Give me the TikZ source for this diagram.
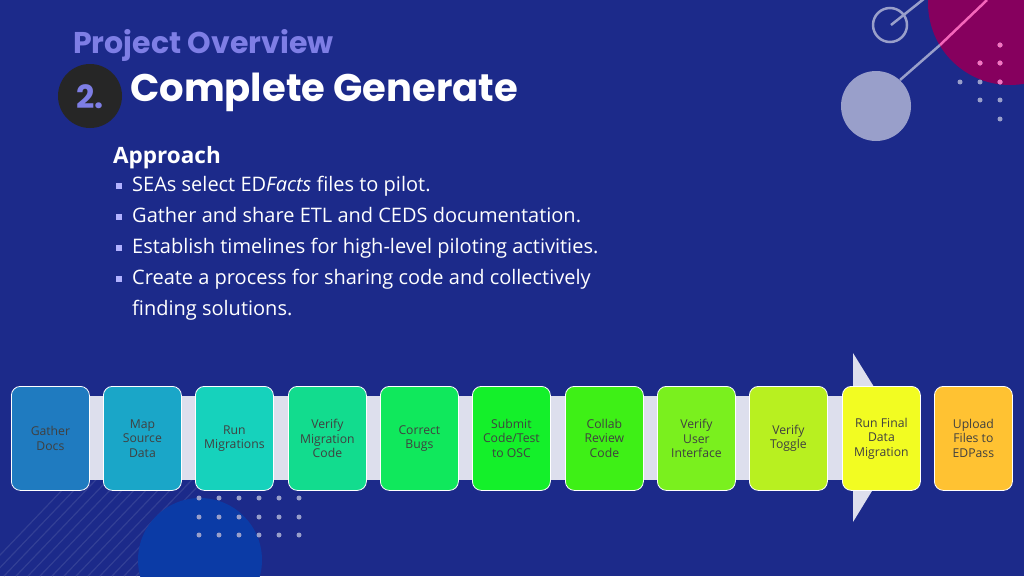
\documentclass[tikz,border=0pt]{standalone}
\usepackage{fontspec}
\setmainfont{Open Sans}
\newfontfamily\titlefont{Poppins}
\newcommand{\sqb}{\textcolor{blue!30!white}{\rule[3pt]{6pt}{6pt}}\hspace{10pt}}
\begin{document}
\begin{tikzpicture}[x=1pt,y=-1pt,
  stepbox/.style={draw=white,line width=0.8pt,rounded corners=9pt,minimum width=78pt,minimum height=104pt,anchor=north west,align=center,font=\fontsize{12.2}{14.5}\selectfont,text=black!75,inner sep=1pt}]
\definecolor{bg}{HTML}{1C2A8A}
\definecolor{mag}{HTML}{86005E}
\definecolor{bcirc}{HTML}{0B3BA6}
\fill[bg] (0,0) rectangle (1024,576);
\useasboundingbox (0,0) rectangle (1024,576);
% decorations top right
\fill[mag] (1010,3) circle (82);
\draw[white!55!bg,line width=2.5pt] (890,25) circle (17);
\draw[white!55!bg,line width=2.5pt] (891,25) -- (925,-2);
\draw[white!55!bg,line width=2.5pt] (900,80) -- (940,45);
\draw[magenta!60!white,line width=2.5pt] (940,45) -- (987,0);
\fill[white!55!bg] (876,106) circle (35);
\foreach \p in {(1000,45),(980,63),(1000,63),(960,82),(980,82),(1000,82),(980,100),(1000,100),(1000,119)} \fill[white!55!bg] \p circle (2.5);
\foreach \p in {(1000,45),(980,63),(1000,63),(1000,82)} \fill[magenta!55!white] \p circle (2.5);
% bottom left decorations
\begin{scope}
\clip (0,420) rectangle (200,576);
\foreach \i in {0,...,16} \draw[bg!80!white,line width=1.2pt,opacity=0.5] (\i*12-20,576) -- (\i*12+110,440);
\end{scope}
\fill[bcirc] (200,560) circle (62);
\foreach \xx in {199,219,239,259,279,299} \foreach \yy in {498,517,535} \fill[white!55!bg] (\xx,\yy) circle (2.5);
% title
\node[anchor=west,text=blue!45!white!90!black,font=\titlefont\bfseries\fontsize{30}{32}\selectfont,inner sep=0pt] (po) at (73,45) {Project Overview};
\fill[black!85] (90,96) circle (32);
\node[text=blue!45!white!90!black,font=\titlefont\bfseries\fontsize{32}{34}\selectfont] (num) at (90,97) {2.};
\node[anchor=west,text=white,font=\titlefont\bfseries\fontsize{38.5}{40}\selectfont,inner sep=0pt] (ttl) at (130,92) {Complete Generate};
% approach
\node[anchor=west,text=white,font=\bfseries\fontsize{22.5}{24}\selectfont,inner sep=0pt] (ap) at (113,158) {Approach};
\node[anchor=north west,text=white,align=left,font=\fontsize{20}{31}\selectfont,inner sep=0pt] (bl) at (116,176) {%
\sqb SEAs select ED\textit{Facts} files to pilot.\\
\sqb Gather and share ETL and CEDS documentation.\\
\sqb Establish timelines for high-level piloting activities.\\
\sqb Create a process for sharing code and collectively\\
\hspace{16pt}finding solutions.};
% band and arrow
\fill[white!85!bg] (30,396) rectangle (870,480);
\fill[white!85!bg] (853,353) -- (905,437) -- (853,522) -- cycle;
% boxes
\foreach \xx/\c/\t [count=\i] in {11/1F7BC0/{Gather\\Docs},103/1AA6C8/{Map\\Source\\Data},195/16D2BC/{Run\\Migrations},288/12DC8E/{Verify\\Migration\\Code},380/10E85C/{Correct\\Bugs},472/14F02A/{Submit\\Code/Test\\to OSC},565/3EF016/{Collab\\Review\\Code},657/7AF01E/{Verify\\User\\Interface},749/B8F020/{Verify\\Toggle},842/F2FC22/{Run Final\\Data\\Migration},934/FFC232/{Upload\\Files to\\EDPass}}
{\definecolor{bc\i}{HTML}{\c}\node[stepbox,fill=bc\i] (b\i) at (\xx,386) {\t};}
\end{tikzpicture}
\end{document}
